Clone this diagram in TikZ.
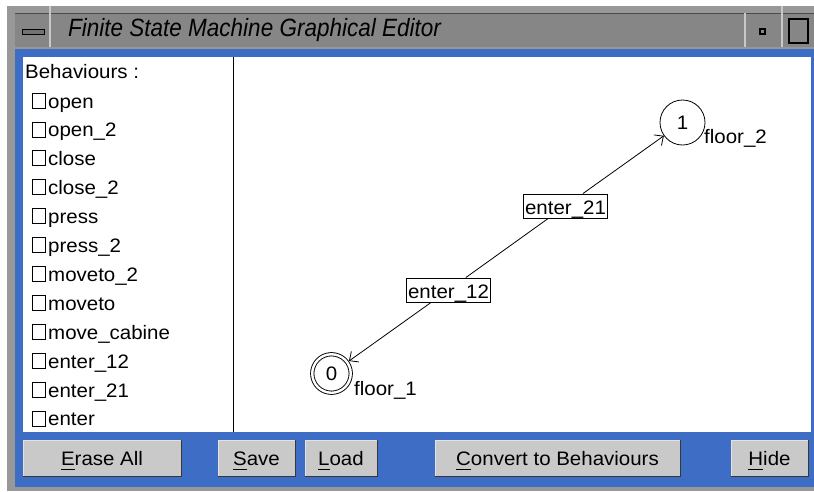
\documentclass[tikz,border=0pt]{standalone}
\usepackage{fontspec}
\setmainfont{Liberation Sans}[FakeStretch=1.05]
\newfontfamily\titlefont{Liberation Sans}[FakeStretch=0.9]
\usepackage{tikz}
\usetikzlibrary{arrows.meta, positioning}

\definecolor{framegray}{RGB}{152,152,152}
\definecolor{titlegray}{RGB}{134,134,134}
\definecolor{sepgray}{RGB}{200,200,200}
\definecolor{winblue}{RGB}{61,109,196}
\definecolor{btnface}{RGB}{201,201,201}
\definecolor{btnlight}{RGB}{226,226,226}
\definecolor{btnshade}{RGB}{55,55,55}

% mnemonic letter of a button
\newcommand{\mnem}[1]{\setbox0\hbox{#1}\rlap{\rule[-5pt]{\wd0}{1pt}}#1}

\begin{document}
\begin{tikzpicture}[x=1pt, y=-1pt,
    every node/.style={font=\fontsize{19.5}{22}\selectfont},
    state/.style={draw, circle, minimum size=45, inner sep=0, line width=0.8},
    accept/.style={state, double, double distance=2.4, line width=0.9, minimum size=38.5, outer sep=2.2},
    trans/.style={draw, rectangle, inner xsep=1.5, inner ysep=0, minimum height=24, text height=18, text depth=2, line width=0.9},
    box/.style={draw, rectangle, minimum width=13, minimum height=15, inner sep=0, line width=0.7},
    item/.style={anchor=base west, inner sep=0},
    btn/.style={fill=btnface, draw=btnlight, line width=1, minimum height=36, inner sep=0, text height=14, text depth=0},
    >={Straight Barb[length=7pt, width=13pt]}]
\useasboundingbox (0,0) rectangle (814,491);

% window frame
\fill[white] (0,0) rectangle (814,491);
\fill[framegray] (7,6) rectangle (814,491);
\fill[titlegray] (15,13) rectangle (814,47);
\draw[black!70, line width=1] (15,13) -- (814,13);
\draw[sepgray, line width=1.5] (50,6) -- (50,47) (745,13) -- (745,47) (782,6) -- (782,47);
\draw[black, fill=black!55, line width=1] (22,29) rectangle (44,34);
\draw[black, line width=1.5] (760,29) rectangle (765,34);
\draw[black, line width=1.5] (789,19) rectangle (808,43);
\node[anchor=west, inner sep=0, font=\titlefont\itshape\fontsize{25}{28}\selectfont] (title) at (68,30) {Finite State Machine Graphical Editor};

\fill[winblue] (15,49) rectangle (814,487);
\fill[white] (23,57) rectangle (811,432);
\draw[black, line width=1] (233,57) -- (233,432);

% behaviours list
\node[item] (hdr) at (25,78) {Behaviours :};
\foreach \name [count=\i] in {open, open\_2, close, close\_2, press, press\_2, moveto\_2, moveto, move\_cabine, enter\_12, enter\_21, enter} {
  \node[box] (cb\i) at (38.5, 71.6+28.9*\i) {};
  \node[item] (it\i) at (48, 79.1+28.9*\i) {\name};
}

% machine
\node[state] (s1) at (682.5,122.5) {1};
\node[accept] (s0) at (331.5,373.5) {0};
\node[item] (f2) at (704,143) {floor\_2};
\node[item] (f1) at (354,395) {floor\_1};
\node[trans] (e21) at (565.5,206) {enter\_21};
\node[trans] (e12) at (448.5,290) {enter\_12};
\draw[line width=0.8]
    (e21) edge[->] (s1)
    (e21) edge (e12)
    (e12) edge[->] (s0);

% buttons
\node[btn, minimum width=158] (erase) at (102,458) {\mnem{E}rase All};
\node[btn, minimum width=77] (save) at (256.5,458) {\mnem{S}ave};
\node[btn, minimum width=72] (load) at (341,458) {\mnem{L}oad};
\node[btn, minimum width=245] (conv) at (557.5,458) {\mnem{C}onvert to Behaviours};
\node[btn, minimum width=77] (hide) at (769.5,458) {\mnem{H}ide};
\foreach \b in {erase, save, load, conv, hide}
  \draw[btnshade, line width=1.6] (\b.south west) -- (\b.south east) -- (\b.north east);
\end{tikzpicture}
\end{document}
